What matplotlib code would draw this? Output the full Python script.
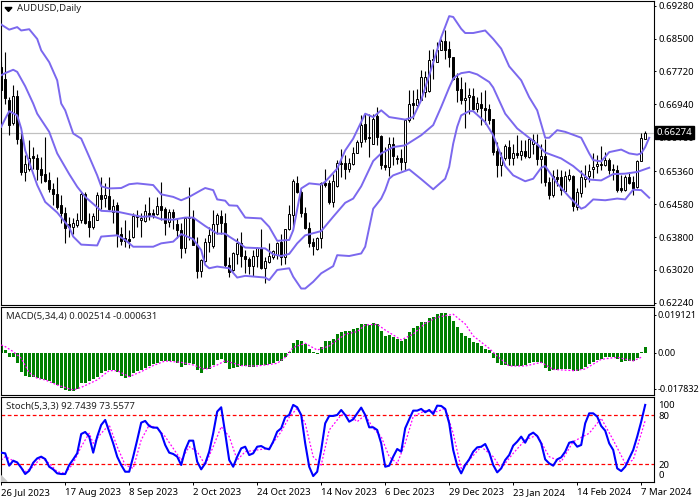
import numpy as np
import matplotlib
matplotlib.use("Agg")
import matplotlib.pyplot as plt

plt.rcParams['font.family'] = ['Noto Sans', 'DejaVu Sans']

# candles, price in 1/10000
opens = [6782,6755,6705,6650,6715,6611,6534,6542,6571,6567,6542,6529,6514,6493,6483,6455,6436,6410,6403,6408,
         6420,6483,6418,6403,6421,6479,6473,6478,6440,6455,6386,6377,6376,6381,6428,6420,6418,6436,6436,6434,
         6453,6447,6416,6440,6410,6396,6353,6428,6424,6361,6300,6324,6369,6358,6410,6429,6412,6314,6303,6340,
         6365,6336,6329,6312,6335,6353,6307,6321,6333,6337,6369,6333,6398,6433,6508,6487,6436,6402,6367,6351,
         6377,6507,6507,6463,6500,6555,6555,6540,6554,6578,6605,6647,6617,6601,6666,6618,6550,6546,6601,6567,
         6566,6558,6656,6698,6692,6705,6723,6726,6801,6794,6822,6845,6826,6806,6757,6730,6704,6711,6715,6684,
         6696,6686,6682,6659,6583,6551,6566,6592,6567,6578,6575,6583,6570,6600,6597,6564,6571,6511,6479,6522,
         6521,6489,6518,6524,6451,6485,6518,6525,6540,6548,6554,6550,6563,6542,6538,6495,6492,6522,6511,6499,
         6560,6613]
highs = [6794,6818,6711,6739,6727,6629,6574,6609,6593,6576,6570,6617,6534,6507,6522,6479,6451,6428,6424,6436,
         6487,6487,6436,6436,6487,6521,6508,6522,6471,6463,6404,6420,6396,6436,6444,6436,6459,6475,6447,6475,
         6511,6451,6447,6447,6424,6412,6428,6499,6444,6381,6329,6377,6404,6444,6436,6445,6436,6333,6345,6377,
         6392,6349,6333,6349,6357,6400,6333,6365,6349,6369,6388,6400,6455,6518,6524,6491,6451,6416,6377,6381,
         6511,6542,6514,6530,6562,6589,6574,6566,6593,6609,6668,6672,6672,6672,6688,6621,6593,6617,6617,6574,
         6589,6660,6727,6727,6731,6775,6773,6822,6826,6841,6849,6869,6845,6806,6768,6759,6747,6734,6734,6711,
         6723,6727,6696,6660,6605,6581,6601,6609,6601,6621,6609,6609,6613,6623,6625,6601,6611,6522,6538,6540,
         6538,6537,6542,6526,6495,6538,6550,6552,6578,6574,6595,6581,6566,6554,6550,6526,6526,6534,6524,6563,
         6626,6630]
lows = [6727,6696,6621,6645,6601,6526,6513,6537,6542,6514,6507,6511,6487,6455,6447,6414,6365,6379,6388,6403,
        6412,6410,6379,6400,6420,6447,6451,6444,6412,6357,6361,6357,6353,6377,6404,6381,6416,6420,6424,6432,
        6420,6384,6404,6400,6377,6331,6341,6373,6361,6284,6286,6321,6345,6353,6388,6388,6310,6286,6300,6317,
        6310,6294,6292,6288,6310,6305,6270,6319,6329,6329,6314,6316,6396,6404,6485,6428,6400,6357,6337,6349,
        6353,6499,6459,6451,6499,6522,6518,6534,6550,6578,6593,6605,6570,6600,6597,6542,6538,6525,6550,6554,
        6538,6538,6652,6660,6689,6704,6711,6723,6755,6794,6822,6802,6782,6752,6700,6696,6639,6672,6680,6676,
        6646,6648,6648,6574,6522,6525,6563,6550,6550,6566,6563,6567,6568,6576,6550,6507,6500,6469,6475,6500,
        6479,6487,6513,6441,6445,6475,6499,6511,6520,6532,6538,6548,6530,6514,6487,6487,6489,6505,6479,6495,
        6560,6613]
closes = [6727,6708,6645,6715,6611,6534,6552,6568,6567,6542,6526,6512,6493,6481,6451,6436,6402,6404,6412,6420,
          6481,6414,6403,6429,6479,6471,6479,6447,6453,6388,6371,6371,6371,6429,6429,6424,6441,6432,6432,6453,
          6445,6414,6440,6428,6396,6353,6424,6424,6362,6300,6325,6369,6384,6410,6432,6412,6314,6298,6341,6365,
          6335,6328,6312,6336,6353,6307,6323,6335,6347,6366,6333,6398,6434,6512,6487,6436,6402,6366,6359,6377,
          6507,6504,6463,6512,6555,6554,6542,6555,6579,6606,6645,6613,6615,6660,6617,6550,6546,6601,6572,6565,
          6558,6658,6696,6692,6706,6760,6760,6800,6798,6823,6844,6823,6806,6755,6729,6704,6710,6717,6684,6698,
          6685,6680,6656,6581,6551,6570,6596,6567,6578,6574,6583,6571,6611,6609,6564,6571,6511,6479,6524,6517,
          6491,6524,6528,6454,6487,6521,6522,6537,6546,6552,6550,6563,6538,6538,6492,6491,6522,6508,6497,6560,
          6615,6626]
last_price = 0.66274

# bollinger bands, (bar, price in 1/10000)
upper_bars = [0,2,4,5,7,9,10,12,14,15,16,18,20,22,24,25,27,30,32,34,38,40,43,45,47,50,51,53,54,56,57,
              59,61,65,67,69,72,73,75,77,80,81,84,86,88,91,93,95,97,101,103,105,107,110,112,113,115,
              116,118,121,123,125,127,130,132,134,136,137,139,141,145,147,148,150,152,155,157,159,160,161,162]
upper_vals = [6883,6871,6877,6869,6872,6849,6822,6794,6751,6696,6680,6625,6613,6570,6526,6500,6495,6496,6505,6507,6503,6481,6475,6467,6475,6491,6496,6491,6469,6466,6455,
              6454,6426,6424,6404,6371,6373,6396,6495,6507,6504,6511,6542,6585,6613,6672,6664,6680,6664,6658,6664,6704,6763,6853,6903,6901,6873,
              6863,6863,6869,6849,6826,6784,6751,6711,6680,6615,6615,6633,6629,6615,6578,6562,6559,6581,6587,6578,6575,6578,6593,6615]
middle_bars = [0,1,3,4,6,8,9,12,14,17,19,21,25,29,31,35,38,40,43,46,48,51,54,56,57,
               59,61,66,68,70,72,74,76,80,83,86,88,90,93,95,98,101,105,108,110,112,113,114,
               115,117,119,122,123,126,129,134,136,140,143,147,150,153,156,159,162]
middle_vals = [6763,6768,6776,6771,6737,6696,6672,6629,6578,6529,6499,6475,6442,6440,6436,6428,6429,6422,6421,6426,6426,6406,6388,6388,6381,
               6369,6355,6353,6339,6335,6340,6365,6384,6394,6428,6461,6471,6500,6560,6578,6593,6597,6621,6645,6688,6734,6755,6763,
               6768,6771,6765,6747,6734,6672,6637,6600,6580,6566,6548,6516,6514,6529,6530,6534,6544]
lower_bars = [0,1,2,4,5,6,8,9,11,14,17,18,20,24,25,29,31,33,38,40,43,45,48,50,51,52,54,57,
              59,61,66,67,69,72,73,75,76,78,80,83,84,87,90,91,93,95,96,97,98,102,105,108,111,112,113,114,
              115,117,118,121,123,126,128,131,133,135,136,139,142,145,146,148,151,154,156,158,160,162]
lower_vals = [6641,6660,6678,6668,6637,6585,6530,6503,6463,6438,6403,6381,6362,6360,6381,6384,6373,6357,6357,6365,6369,6387,6375,6349,6314,6306,6310,6306,
              6284,6288,6284,6278,6302,6306,6286,6258,6258,6274,6294,6311,6337,6335,6341,6357,6447,6471,6491,6518,6526,6540,6517,6493,6518,6546,6601,6641,
              6668,6678,6678,6652,6621,6548,6526,6512,6518,6544,6548,6507,6475,6447,6451,6469,6467,6471,6469,6492,6491,6473]

# macd histogram and signal, in 1/10000
macd_hist = [36,13,-20,-20,-50,-96,-116,-119,-119,-125,-132,-135,-140,-152,-162,-173,-185,-191,-190,-182,
             -149,-149,-140,-129,-119,-99,-89,-86,-86,-94,-116,-124,-122,-102,-92,-86,-76,-66,-58,-50,
             -43,-43,-43,-43,-50,-69,-59,-53,-58,-86,-99,-83,-83,-63,-36,-33,-50,-79,-76,-71,
             -66,-66,-69,-69,-63,-63,-61,-58,-50,-41,-43,-20,5,46,61,58,41,17,5,-8,
             30,58,58,66,91,102,107,107,116,124,140,140,135,145,140,107,83,86,78,66,
             58,69,104,120,132,152,152,170,178,190,198,195,182,157,129,99,83,74,53,46,
             33,20,13,-25,-53,-63,-63,-68,-68,-68,-66,-63,-53,-46,-46,-50,-74,-92,-87,-86,
             -83,-83,-83,-91,-91,-83,-69,-56,-46,-36,-30,-21,-21,-20,-30,-46,-41,-41,-41,-26,
             3,28]
macd_sig_bars = [0,1,3,5,7,9,11,14,18,20,24,27,29,32,35,38,41,45,48,51,54,56,60,64,69,71,73,76,79,82,86,
                 89,91,94,96,100,103,106,109,113,116,118,122,124,127,131,135,138,143,146,150,154,158,160]
macd_sig_vals = [38,30,5,-28,-99,-127,-135,-160,-185,-172,-135,-89,-89,-119,-94,-64,-41,-48,-61,-83,-61,-40,-64,-66,-53,-23,26,46,13,33,91,
                 104,137,140,112,63,92,145,175,190,142,83,21,-17,-66,-66,-48,-83,-89,-81,-33,-23,-41,-23]

# stochastic main and signal
stoch_main = [34.3,33.5,18.4,24.5,22.4,15.9,8.2,12.2,22,27.3,29.4,26.5,17.1,13.9,9,8.2,8.2,19.2,26.1,33.5,
              57.1,59.6,53.9,34.3,53.9,68.2,74.3,60,45.7,29.4,19.2,11,11,29.4,49.8,71,73.1,66.9,64.9,64.9,
              58,43.7,34.3,32.7,29.4,19.2,37.6,49,49,23.3,13.9,21.2,35.5,58,84.5,89.8,58,25.3,17.1,29.4,
              39.6,41.6,31.4,33.5,41.6,42.4,39.6,38.4,47.8,60,64.1,77.6,80.4,92.7,89.8,80.4,45.7,17.1,5.7,11,
              37.6,70.2,79.2,79.2,80.4,86.5,80.4,72.2,75.1,82.4,89.4,80.4,65.3,65.3,62,45.7,17.1,18.4,29.4,38.8,
              35.5,64.1,75.1,85.7,85.7,87.8,83.7,86.5,81.6,91.8,91.4,87.8,70.2,37.6,18.4,9,19.2,26.1,35.5,40.8,
              41.6,44.9,34.7,19.2,10.2,15.1,25.3,31.4,42.9,47.8,53.9,46.5,55.9,58.8,54.7,45.7,26.1,21.2,18.4,26.1,
              28.6,35.5,46.5,47.8,41.6,43.7,70.2,82.4,82.4,78.4,66.9,61.2,45.7,37.6,15.1,11.8,17.1,27.3,37.6,53.9,
              72.2,92.7]
stoch_sig_bars = [0,1,2,4,6,8,10,12,14,16,18,20,22,23,25,27,29,31,33,35,37,39,41,43,45,47,49,51,53,55,57,59,61,64,67,70,72,74,76,78,80,82,85,87,
                  89,91,93,95,97,99,101,103,106,109,111,113,115,117,120,123,125,128,131,134,137,140,143,147,150,153,156,158,161]
stoch_sig_vals = [25.3,29.4,27.3,21.2,11,17.1,28.6,21.2,11,9,21.2,41.6,58,45.7,58,68.2,41.6,19.2,15.1,49.8,68.2,64.1,53.9,39.6,25.3,41.6,35.5,19.2,41.6,66.1,53.9,25.3,35.5,37.6,39.6,60,77.6,88.6,70.2,29.4,19.2,62,80.4,80.4,
                  72.2,80.4,64.1,53.9,29.4,21.2,45.7,78.4,85.7,84.5,88.6,58,15.1,25.3,41.6,29.4,15.1,33.5,49.8,55.9,29.4,23.3,47.8,58,76.3,49.8,21.2,25.3,73.5]

price_ticks = [0.6928, 0.6850, 0.6772, 0.6694, 0.6616, 0.6536, 0.6458, 0.6380, 0.6302, 0.6224]
price_labels = ['0.69280', '0.68500', '0.67720', '0.66940', '0.66160', '0.65360', '0.64580', '0.63800', '0.63020', '0.62240']
date_bars = [0, 16, 32, 48, 64, 80, 96, 112, 128, 144, 160]
date_labels = ['26 Jul 2023', '17 Aug 2023', '8 Sep 2023', '2 Oct 2023', '24 Oct 2023', '14 Nov 2023',
               '6 Dec 2023', '29 Dec 2023', '23 Jan 2024', '14 Feb 2024', '7 Mar 2024']

W, H = 700, 500
LEFT, RIGHT = 1, 654
FS = 6.9
BAND = '#7B68EE'


def panel(top, bottom):
    # axes rectangle given in image pixels
    ax = fig.add_axes([LEFT / W, 1 - bottom / H, (RIGHT - LEFT) / W, (bottom - top) / H])
    ax.set_xlim(-0.05, 163.2)
    ax.yaxis.tick_right()
    ax.tick_params(axis='y', length=1.5, width=0.7, labelsize=FS, pad=1.5)
    ax.set_xticks([])
    for s in ax.spines.values():
        s.set_linewidth(0.8)
    return ax


fig = plt.figure(figsize=(7, 5), dpi=100)

# main chart
ax = panel(0.5, 305)
ax.set_ylim(0.6219, 0.6940)
bars = np.arange(len(opens))
o, h, l, c = [np.array(a) / 10000 for a in (opens, highs, lows, closes)]
ax.axhline(last_price, color='#c0c0c0', lw=0.9, zorder=1)
ax.vlines(bars, l, h, color='black', lw=0.8, zorder=2)
up = c >= o
body_lo = np.minimum(o, c)
body_h = np.maximum(np.abs(c - o), 0.00005)
ax.bar(bars[up], body_h[up], bottom=body_lo[up], width=0.62, facecolor='white', edgecolor='black', linewidth=0.7, zorder=3)
ax.bar(bars[~up], body_h[~up], bottom=body_lo[~up], width=0.62, facecolor='black', edgecolor='black', linewidth=0.7, zorder=3)
ax.plot(upper_bars, np.array(upper_vals) / 10000, color=BAND, lw=1.4, zorder=4)
ax.plot(middle_bars, np.array(middle_vals) / 10000, color=BAND, lw=1.4, zorder=4)
ax.plot(lower_bars, np.array(lower_vals) / 10000, color=BAND, lw=1.4, zorder=4)
ax.set_yticks(price_ticks)
ax.set_yticklabels(price_labels)
ax.text(16 / 653, 1 - 8 / 304.5, 'AUDUSD,Daily', transform=ax.transAxes, fontsize=FS, va='center', color='#222222')
ax.fill([4 / 653, 11 / 653, 7.5 / 653], [1 - 7 / 304.5, 1 - 7 / 304.5, 1 - 11 / 304.5], transform=ax.transAxes, color='black')
ax.text(1.0 + 3 / 653, last_price, f'{last_price:.5f}', transform=ax.get_yaxis_transform(), fontsize=FS, color='white',
        va='center', ha='left', zorder=10, clip_on=False,
        bbox=dict(facecolor='black', edgecolor='black', pad=1.2))

# macd
ax2 = panel(307.3, 395)
ax2.set_ylim(-0.02096, 0.02244)
ax2.bar(np.arange(len(macd_hist)), np.array(macd_hist) / 10000, width=0.75, color='#008000', zorder=2)
ax2.plot(macd_sig_bars, np.array(macd_sig_vals) / 10000, color='#ff00ff', lw=0.9, ls=(0, (1.5, 1.5)), zorder=3)
ax2.set_yticks([0.0188, 0, -0.0178])
ax2.set_yticklabels(['0.019121', '0.00', '-0.017832'])
ax2.tick_params(axis='y', labelsize=6.5, pad=1)
ax2.text(5 / 653, 0.90, 'MACD(5,34,4) 0.002514 -0.000631', transform=ax2.transAxes, fontsize=FS, va='center', color='#222222')

# stochastic
ax3 = panel(397.3, 481.7)
ax3.set_ylim(-1.2, 102)
ax3.axhline(80, color='#ff0000', lw=0.9, ls=(0, (3, 2)), zorder=1)
ax3.axhline(20, color='#ff0000', lw=0.9, ls=(0, (3, 2)), zorder=1)
ax3.plot(stoch_sig_bars, stoch_sig_vals, color='#ff00ff', lw=0.9, ls=(0, (1.5, 1.5)), zorder=2)
ax3.plot(np.arange(len(stoch_main)), stoch_main, color='#0000ff', lw=1.5, zorder=3)
ax3.set_yticks([93.5, 80, 20, 7.5])
ax3.set_yticklabels(['100', '80', '20', '0'])
ax3.tick_params(axis='y', length=0, pad=3)
ax3.text(5 / 653, 0.89, 'Stoch(5,3,3) 92.7439 73.5577', transform=ax3.transAxes, fontsize=FS, va='center', color='#222222')
ax3.fill([0, 6 / 653, 0], [0, 0, 6 / 84.4], transform=ax3.transAxes, color='#c8c8c8', zorder=5)
ax3.set_xticks(date_bars)
ax3.set_xticklabels(date_labels, ha='left', fontsize=FS)
ax3.tick_params(axis='x', length=2.5, width=0.7, pad=2)

fig.savefig('out.png', dpi=100)
